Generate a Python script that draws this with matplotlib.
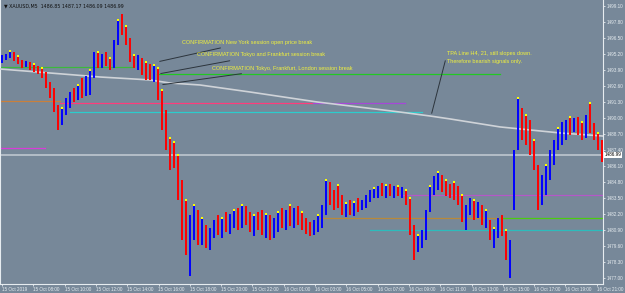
import numpy as np
import matplotlib
matplotlib.use("Agg")
import matplotlib.pyplot as plt
import matplotlib.transforms as mtransforms

# XAUUSD M5 bars (one entry per ~15 min block)
highs = [1495.12, 1495.20, 1495.44, 1495.36, 1495.04, 1494.71, 1494.63, 1494.55, 1494.39, 1494.22,
         1494.06, 1493.74, 1492.92, 1492.44, 1491.05, 1490.81, 1491.62, 1492.11, 1492.44, 1492.68,
         1493.25, 1493.41, 1493.90, 1495.36, 1495.36, 1495.20, 1495.36, 1494.87, 1496.34, 1497.96,
         1498.45, 1497.48, 1496.50, 1495.12, 1495.12, 1494.87, 1494.55, 1494.39, 1494.31, 1494.06,
         1492.27, 1490.65, 1488.37, 1488.05, 1486.99, 1484.96, 1483.33, 1482.11, 1482.92, 1482.52,
         1481.87, 1481.30, 1481.05, 1481.70, 1482.11, 1481.87, 1482.35, 1482.19, 1482.52, 1482.68,
         1482.92, 1482.84, 1482.35, 1482.11, 1482.35, 1482.52, 1482.19, 1482.11, 1481.87, 1482.35,
         1482.68, 1482.52, 1482.92, 1482.68, 1482.84, 1482.35, 1481.87, 1481.54, 1481.70, 1482.11,
         1482.92, 1484.96, 1484.79, 1484.14, 1484.55, 1483.74, 1483.09, 1483.33, 1483.17, 1483.49,
         1483.33, 1483.74, 1484.14, 1484.31, 1484.47, 1484.71, 1484.55, 1484.63, 1484.47, 1484.47,
         1484.39, 1484.14, 1483.49, 1481.30, 1480.48, 1480.89, 1482.52, 1484.47, 1485.28, 1485.61,
         1485.36, 1484.96, 1484.63, 1484.79, 1484.47, 1483.74, 1482.92, 1483.49, 1483.33, 1483.17,
         1482.92, 1482.52, 1481.70, 1481.05, 1481.87, 1482.11, 1480.89, 1480.08, 1487.39, 1491.62,
         1490.81, 1490.24, 1489.83, 1488.21, 1486.18, 1485.36, 1486.18, 1487.39, 1488.21, 1489.18,
         1489.67, 1489.83, 1490.08, 1490.00, 1490.08, 1489.67, 1490.24, 1491.22, 1489.59, 1488.78,
         1488.21]
lows = [1494.47, 1494.71, 1494.87, 1494.63, 1494.39, 1494.06, 1494.14, 1493.90, 1493.74, 1493.57,
        1493.25, 1492.44, 1491.62, 1490.48, 1489.02, 1489.43, 1490.24, 1490.81, 1491.30, 1491.46,
        1491.62, 1491.79, 1491.87, 1493.25, 1494.06, 1494.06, 1494.22, 1493.90, 1494.06, 1495.93,
        1496.74, 1495.93, 1494.55, 1494.06, 1493.90, 1493.49, 1493.09, 1493.09, 1492.92, 1491.46,
        1489.02, 1487.39, 1485.77, 1485.93, 1483.33, 1480.08, 1478.86, 1477.15, 1480.08, 1479.67,
        1479.67, 1479.43, 1479.26, 1480.24, 1480.48, 1480.24, 1480.73, 1480.57, 1481.05, 1480.89,
        1481.05, 1481.30, 1480.73, 1480.40, 1480.89, 1480.48, 1480.24, 1480.08, 1480.24, 1480.73,
        1481.05, 1480.89, 1481.22, 1481.05, 1481.30, 1480.89, 1480.57, 1480.40, 1480.48, 1480.73,
        1481.05, 1482.11, 1482.92, 1482.52, 1482.68, 1482.11, 1481.95, 1482.11, 1482.03, 1482.35,
        1482.52, 1482.68, 1483.17, 1483.49, 1483.49, 1483.66, 1483.49, 1483.66, 1483.49, 1483.66,
        1483.49, 1482.92, 1480.48, 1478.45, 1479.10, 1479.43, 1480.08, 1482.35, 1483.74, 1484.14,
        1483.98, 1483.66, 1483.49, 1483.33, 1482.92, 1481.54, 1480.89, 1482.11, 1481.70, 1481.87,
        1481.30, 1481.05, 1480.08, 1479.43, 1480.24, 1480.40, 1478.45, 1476.99, 1482.52, 1487.39,
        1488.21, 1487.80, 1486.99, 1485.77, 1482.52, 1482.92, 1483.74, 1484.96, 1486.18, 1487.39,
        1487.80, 1488.21, 1488.61, 1488.86, 1488.61, 1488.21, 1488.37, 1488.78, 1488.21, 1487.39,
        1486.42]
closes = [1494.87, 1495.04, 1495.12, 1494.79, 1494.55, 1494.31, 1494.47, 1494.06, 1493.90, 1493.82,
          1493.41, 1492.60, 1491.87, 1490.81, 1489.83, 1490.48, 1491.30, 1491.87, 1491.79, 1492.27,
          1492.11, 1492.92, 1493.49, 1494.71, 1494.55, 1494.87, 1494.55, 1494.31, 1495.93, 1497.56,
          1497.15, 1496.18, 1494.87, 1494.55, 1494.71, 1493.90, 1493.74, 1493.49, 1493.74, 1491.87,
          1489.43, 1487.80, 1487.39, 1486.58, 1483.74, 1480.89, 1479.67, 1480.89, 1482.11, 1480.48,
          1481.30, 1480.08, 1480.73, 1481.30, 1480.89, 1481.54, 1481.05, 1481.87, 1482.11, 1481.30,
          1482.52, 1481.70, 1481.05, 1481.70, 1481.30, 1480.89, 1481.87, 1480.48, 1481.54, 1482.11,
          1481.54, 1482.35, 1481.70, 1482.35, 1481.87, 1481.22, 1481.05, 1480.89, 1481.30, 1481.70,
          1482.68, 1484.55, 1483.49, 1483.33, 1482.92, 1482.52, 1482.68, 1482.35, 1482.92, 1482.68,
          1483.09, 1483.49, 1483.82, 1483.98, 1484.14, 1483.98, 1484.31, 1483.82, 1484.14, 1483.90,
          1483.98, 1483.33, 1481.05, 1479.26, 1480.08, 1480.40, 1482.11, 1484.14, 1484.79, 1485.12,
          1484.55, 1484.31, 1484.14, 1483.74, 1483.33, 1482.11, 1482.52, 1482.92, 1482.52, 1482.68,
          1481.70, 1482.11, 1480.48, 1480.73, 1481.30, 1480.89, 1478.86, 1483.33, 1486.99, 1489.83,
          1489.02, 1488.21, 1487.39, 1486.18, 1483.33, 1484.55, 1485.77, 1486.74, 1487.80, 1488.61,
          1489.02, 1489.43, 1489.18, 1489.67, 1489.02, 1488.61, 1489.83, 1489.18, 1488.61, 1488.21,
          1486.99]

dot_bars = [2, 4, 8, 10, 15, 19, 22, 24, 27, 29, 31, 33, 36, 38, 39, 40, 42, 43, 44, 46, 48, 50,
            55, 58, 60, 63, 66, 69, 72, 75, 79, 81, 84, 86, 88, 93, 96, 99, 101, 102, 104, 107, 109,
            111, 113, 115, 118, 121, 123, 126, 129, 131, 133, 136, 139, 142, 145, 147, 149]

# TPA line (H4 EMA 21) knots
ema_bar = [-0.5, 24.5, 37, 42, 49.5, 62, 78.75, 95.25, 99.5, 107, 112, 124.5, 139.5, 150.25]
ema_price = [1493.98, 1493.33, 1493.09, 1492.84, 1492.68, 1492.11, 1491.30, 1490.65, 1490.48,
             1490.16, 1489.92, 1489.27, 1488.78, 1488.53]

# session levels
level_price = [1494.14, 1493.57, 1491.38, 1491.22, 1491.22, 1490.48, 1487.56,
               1483.74, 1481.87, 1481.87, 1480.89]
level_start = [-0.5, 38.75, -0.5, 14.5, 77.75, 17, -0.5, 99.5, 79.5, 125.25, 92]
level_end = [32.5, 124.5, 14.5, 77.75, 100.75, 105, 10.75, 150.25, 125.25, 150.25, 150.25]
level_color = ['#3cb83c', '#22c822', '#c8803c', '#ff3c7c', '#a648d8', '#2ccccc', '#d83cd8',
               '#b458c8', '#b8893a', '#4ccc10', '#2cbcbc']

last_price = 1486.99

x_labels = ['15 Oct 2019', '15 Oct 08:00', '15 Oct 10:00', '15 Oct 12:00', '15 Oct 14:00',
            '15 Oct 16:00', '15 Oct 18:00', '15 Oct 20:00', '15 Oct 22:00', '16 Oct 01:00',
            '16 Oct 03:00', '16 Oct 05:00', '16 Oct 07:00', '16 Oct 09:00', '16 Oct 11:00',
            '16 Oct 13:00', '16 Oct 15:00', '16 Oct 17:00', '16 Oct 19:00', '16 Oct 21:00']

bg = '#778899'
fnt = 'Liberation Sans'
fig = plt.figure(figsize=(6.25, 2.93), dpi=100)
fig.patch.set_facecolor(bg)
ax = fig.add_axes([0, 9 / 293, 603 / 625, 284 / 293])
ax.set_facecolor(bg)
ax.set_xlim(-0.5, 150.25)
ax.set_ylim(1476.50, 1499.59)

# levels
for p, a, b, c in zip(level_price, level_start, level_end, level_color):
    ax.plot([a, b], [p, p], color=c, lw=0.9, zorder=2)
ax.axhline(last_price, color='#c4ccd4', lw=1.1, zorder=2)

# TPA line
ax.plot(ema_bar, ema_price, color='#cfd3d8', lw=1.2, zorder=3)

# bars
x = np.arange(len(highs))
opens = [closes[0]] + closes[:-1]
cols = ['#0000ff' if c >= o else '#ff0000' for o, c in zip(opens, closes)]
ax.vlines(x, lows, highs, colors=cols, lw=1.4, zorder=4)
ax.plot(dot_bars, [highs[i] for i in dot_bars], 's', color='#ffff00', ms=1.6, mew=0, zorder=5)

# notes
ytxt = '#f2f23c'
ln = dict(arrowstyle='-', color='#2c343c', lw=0.7)
ax.annotate('CONFIRMATION New York session open price break', xy=(38.75, 1494.55),
            xytext=(45.0, 1496.17), color=ytxt, fontsize=4, va='center', family=fnt,
            arrowprops=ln, zorder=6)
ax.annotate('CONFIRMATION Tokyo and Frankfurt session break', xy=(39.0, 1493.57),
            xytext=(48.75, 1495.12), color=ytxt, fontsize=4, va='center', family=fnt,
            arrowprops=ln, zorder=6)
ax.annotate('CONFIRMATION Tokyo, Frankfurt, London session break', xy=(39.5, 1492.68),
            xytext=(52.5, 1494.06), color=ytxt, fontsize=4, va='center', family=fnt,
            arrowprops=ln, zorder=6)
ax.annotate('', xy=(107.25, 1490.16), xytext=(111.0, 1494.87), arrowprops=ln, zorder=6)
ax.text(111.25, 1495.28, 'TPA Line H4, 21, still slopes down.', color=ytxt, fontsize=4,
        va='center', family=fnt)
ax.text(111.25, 1494.55, 'Therefore bearish signals only.', color=ytxt, fontsize=4,
        va='center', family=fnt)

ax.text(0.006, 0.988, '\u25bc XAUUSD,M5  1486.85 1487.17 1486.09 1486.99', transform=ax.transAxes,
        fontsize=3.4, color='#101010', va='top')

# axes
yt = np.arange(1477.00, 1499.11, 1.3)
ax.yaxis.tick_right()
ax.set_yticks(yt)
ax.set_yticklabels(['%.2f' % v for v in yt], family=fnt)
xt = [0.0 + 7.825 * k for k in range(len(x_labels))]
ax.set_xticks(xt)
ax.set_xticklabels(x_labels, ha='left', family=fnt)
ax.tick_params(axis='both', colors='#e6ecf0', labelcolor='#e6ecf0', labelsize=3.3, length=1.5,
               width=0.6, pad=0.8)
ax.spines['top'].set_visible(False)
for s in ['right', 'bottom', 'left']:
    ax.spines[s].set_color('#e6ecf0')
    ax.spines[s].set_linewidth(0.8)

tr = mtransforms.blended_transform_factory(ax.transAxes, ax.transData)
ax.text(1.003, last_price, '%.2f' % last_price, transform=tr, fontsize=3.3, color='#000000',
        family=fnt, va='center', ha='left',
        bbox=dict(boxstyle='square,pad=0.15', fc='white', ec='none'))

fig.savefig('out.png', dpi=100, facecolor=bg)
